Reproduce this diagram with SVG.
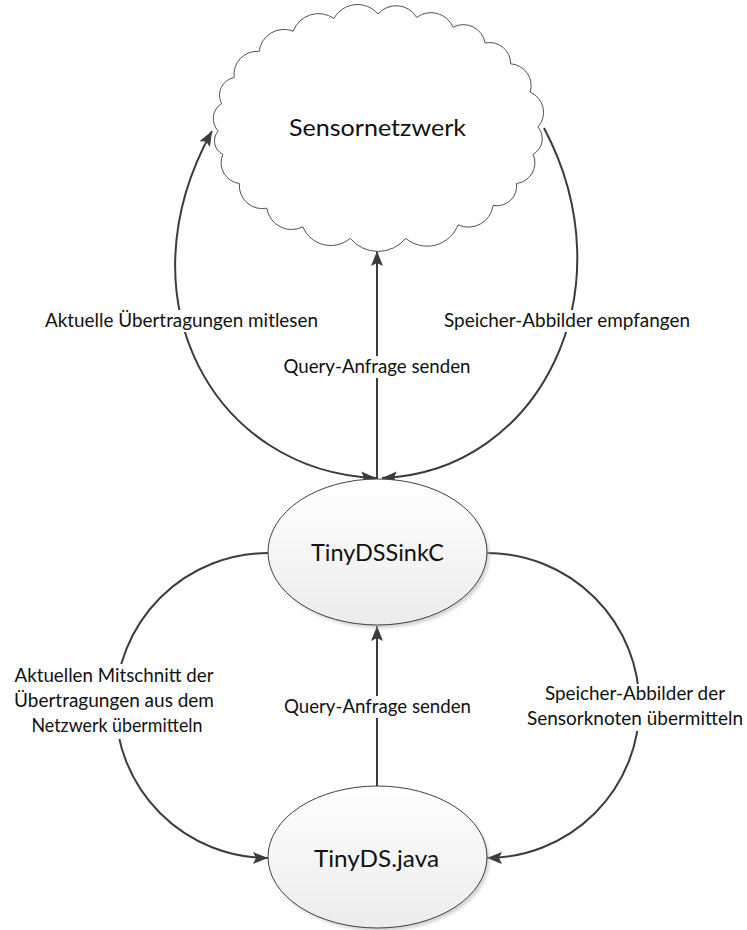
<svg xmlns="http://www.w3.org/2000/svg" width="747" height="930" viewBox="0 0 747 930">
  <style>
    .node-outline { stroke: #404040; stroke-width: 1; }
    .cloud { fill: #ffffff; stroke: #505050; stroke-width: 1; }
    .edge { fill: none; stroke: #3c3c3c; stroke-width: 2; }
    .lbl-bg { fill: #ffffff; }
    .lbl { font-family: Lato, "Open Sans", "Liberation Sans", sans-serif; font-size: 18.5px; fill: #111111; text-anchor: middle; }
    .title { font-family: Lato, "Open Sans", "Liberation Sans", sans-serif; font-size: 23.5px; fill: #111111; text-anchor: middle; }
  </style>
  <defs>
    <linearGradient id="nodeFill" x1="0" y1="0" x2="0" y2="1">
      <stop offset="0" stop-color="#ffffff"/>
      <stop offset="1" stop-color="#ececec"/>
    </linearGradient>
    <filter id="softShadow" x="-10%" y="-10%" width="120%" height="120%">
      <feGaussianBlur stdDeviation="1.5"/>
    </filter>
    <marker id="arrow" viewBox="0 0 15 12" refX="15" refY="6" markerWidth="15" markerHeight="12" markerUnits="userSpaceOnUse" orient="auto-start-reverse">
      <path d="M0,0 L15,6 L0,12 L3,6 Z" fill="#3c3c3c"/>
    </marker>
  </defs>

  <rect width="747" height="930" fill="#ffffff"/>

  <!-- connectors -->
  <g id="connectors">
    <!-- sink <-> network, left arc -->
    <path class="edge" d="M376,478 C215,472 118,300 212,131" marker-start="url(#arrow)" marker-end="url(#arrow)"/>
    <!-- network -> sink, right arc -->
    <path class="edge" d="M544,128 C630,290 540,472 382,478" marker-end="url(#arrow)"/>
    <!-- sink -> network, query -->
    <path class="edge" d="M377,479 L377,251" marker-end="url(#arrow)"/>
    <!-- sink -> java, left semicircle -->
    <path class="edge" d="M268,553 A152,152 0 0 0 268,858" marker-end="url(#arrow)"/>
    <!-- sink -> java, right semicircle -->
    <path class="edge" d="M487,553 A152,152 0 0 1 487,858" marker-end="url(#arrow)"/>
    <!-- java -> sink, query -->
    <path class="edge" d="M377,786 L377,626" marker-end="url(#arrow)"/>

    <!-- labels -->
    <rect class="lbl-bg" x="43" y="310" width="277" height="22"/>
    <text class="lbl" x="181.5" y="327" textLength="273" lengthAdjust="spacingAndGlyphs">Aktuelle Übertragungen mitlesen</text>

    <rect class="lbl-bg" x="442" y="310" width="250" height="22"/>
    <text class="lbl" x="567" y="327" textLength="246" lengthAdjust="spacingAndGlyphs">Speicher-Abbilder empfangen</text>

    <rect class="lbl-bg" x="281" y="356" width="192" height="22"/>
    <text class="lbl" x="377" y="373" textLength="187" lengthAdjust="spacingAndGlyphs">Query-Anfrage senden</text>

    <rect class="lbl-bg" x="282" y="696" width="192" height="22"/>
    <text class="lbl" x="377.5" y="713" textLength="187" lengthAdjust="spacingAndGlyphs">Query-Anfrage senden</text>

    <rect class="lbl-bg" x="12" y="664" width="205" height="75"/>
    <text class="lbl" x="114" y="682" textLength="199" lengthAdjust="spacingAndGlyphs">Aktuellen Mitschnitt der</text>
    <text class="lbl" x="114" y="707" textLength="200" lengthAdjust="spacingAndGlyphs">Übertragungen aus dem</text>
    <text class="lbl" x="117" y="732" textLength="171" lengthAdjust="spacingAndGlyphs">Netzwerk übermitteln</text>

    <rect class="lbl-bg" x="524" y="684" width="222" height="47"/>
    <text class="lbl" x="635" y="700" textLength="180" lengthAdjust="spacingAndGlyphs">Speicher-Abbilder der</text>
    <text class="lbl" x="635" y="725" textLength="216" lengthAdjust="spacingAndGlyphs">Sensorknoten übermitteln</text>
  </g>

  <!-- cloud node -->
  <g id="sensornetzwerk">
    <path class="cloud" d="M538,127
      A18,18 0 0 1 533.2,154.3
      A21,21 0 0 1 516.6,183.5
      A20,20 0 0 1 493.1,205.5
      A25,25 0 0 1 458,224.9
      A33,33 0 0 1 405.8,238.3
      A36,36 0 0 1 350.2,238.3
      A30,30 0 0 1 302.9,226.8
      A25,25 0 0 1 266.8,208.2
      A23,23 0 0 1 239.4,183.5
      A21,21 0 0 1 222.8,154.3
      A15,15 0 0 1 218.2,131
      A18,18 0 0 1 221.5,103.5
      A18,18 0 0 1 234.2,77.5
      A23,23 0 0 1 259.1,51.4
      A25,25 0 0 1 293.2,31.2
      A27,27 0 0 1 333.9,18.4
      A27,27 0 0 1 378,14
      A24,24 0 0 1 416.7,17.4
      A24,24 0 0 1 453.1,27.2
      A22,22 0 0 1 485.1,43
      A21,21 0 0 1 510.6,63.8
      A22,22 0 0 1 530.2,92.1
      A22,22 0 0 1 538,127 Z"/>
    <text class="title" x="377.5" y="136" textLength="177" lengthAdjust="spacingAndGlyphs">Sensornetzwerk</text>
  </g>

  <!-- sink node -->
  <g id="tinydssinkc">
    <ellipse cx="380" cy="555" rx="109.5" ry="73" fill="#b8b8b8" opacity="0.6" filter="url(#softShadow)"/>
    <ellipse class="node-outline" cx="377.5" cy="552" rx="109.5" ry="73" fill="url(#nodeFill)"/>
    <text class="title" x="377.5" y="561" textLength="133" lengthAdjust="spacingAndGlyphs">TinyDSSinkC</text>
  </g>

  <!-- java node -->
  <g id="tinyds-java">
    <ellipse cx="380" cy="860" rx="109.5" ry="71" fill="#b8b8b8" opacity="0.6" filter="url(#softShadow)"/>
    <ellipse class="node-outline" cx="377.5" cy="857" rx="109.5" ry="71" fill="url(#nodeFill)"/>
    <text class="title" x="376.5" y="867" textLength="125" lengthAdjust="spacingAndGlyphs">TinyDS.java</text>
  </g>
</svg>
